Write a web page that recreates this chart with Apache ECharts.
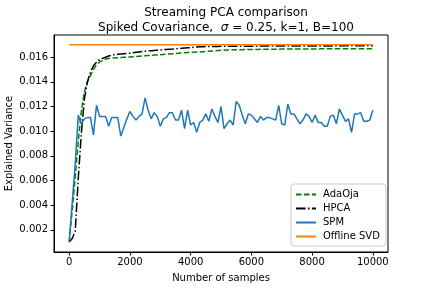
<!DOCTYPE html>
<html>
<head>
<meta charset="utf-8">
<script src="https://cdn.jsdelivr.net/npm/echarts@6/dist/echarts.min.js"></script>
<style>
html,body{margin:0;padding:0;background:#fff;}
#c{width:432px;height:288px;}
</style>
</head>
<body>
<div id="c"></div>
<script>
const samples = [0,100,200,300,400,500,600,700,800,900,
1000,1100,1200,1300,1400,1500,1600,1700,1800,1900,
2000,2100,2200,2300,2400,2500,2600,2700,2800,2900,
3000,3100,3200,3300,3400,3500,3600,3700,3800,3900,
4000,4100,4200,4300,4400,4500,4600,4700,4800,4900,
5000,5100,5200,5300,5400,5500,5600,5700,5800,5900,
6000,6100,6200,6300,6400,6500,6600,6700,6800,6900,
7000,7100,7200,7300,7400,7500,7600,7700,7800,7900,
8000,8100,8200,8300,8400,8500,8600,8700,8800,8900,
9000,9100,9200,9300,9400,9500,9600,9700,9800,9900,10000];

const adaOja = [0.0010,0.0036,0.0063,0.0092,0.0116,0.0132,0.0140,0.0145,0.0150,0.0154,
0.0156,0.01575,0.01585,0.0159,0.01592,0.01594,0.01596,0.01598,0.0160,0.0160,
0.01602,0.01604,0.01606,0.01608,0.0161,0.01612,0.01614,0.01616,0.01617,0.01618,
0.0162,0.01622,0.01624,0.01626,0.01628,0.0163,0.01632,0.01634,0.01636,0.01638,
0.0164,0.01641,0.01642,0.01643,0.01645,0.01646,0.01648,0.0165,0.01652,0.01654,
0.01656,0.01657,0.01658,0.01659,0.0166,0.0166,0.01661,0.01661,0.01662,0.01662,
0.01663,0.01663,0.01663,0.01664,0.01664,0.01664,0.01665,0.01665,0.01665,0.01665,
0.01666,0.01666,0.01666,0.01666,0.01666,0.01667,0.01667,0.01667,0.01667,0.01667,
0.01667,0.01667,0.01667,0.01668,0.01668,0.01668,0.01668,0.01668,0.01668,0.01668,
0.01668,0.01668,0.01668,0.01668,0.01668,0.01668,0.01668,0.01668,0.01668,0.01668,0.01668];

const hpca = [0.0010,0.0013,0.0019,0.0062,0.0098,0.0126,0.0140,0.0148,0.0153,0.0156,
0.0158,0.0159,0.0160,0.0161,0.01615,0.0162,0.01623,0.01626,0.01628,0.0163,
0.01632,0.01636,0.0164,0.01643,0.01646,0.01649,0.01651,0.01653,0.01655,0.01657,
0.01659,0.01661,0.01663,0.01665,0.01666,0.01668,0.0167,0.01672,0.01674,0.01676,
0.01678,0.0168,0.01682,0.01684,0.01685,0.01686,0.01686,0.01687,0.01687,0.01687,
0.01688,0.01688,0.01688,0.01688,0.01688,0.01688,0.01689,0.01689,0.01689,0.01689,
0.01689,0.01689,0.01689,0.0169,0.0169,0.0169,0.0169,0.0169,0.0169,0.0169,
0.0169,0.0169,0.0169,0.0169,0.0169,0.0169,0.01691,0.01691,0.01691,0.01691,
0.01691,0.01691,0.01691,0.01691,0.01691,0.01691,0.01691,0.01691,0.01691,0.01691,
0.01692,0.01692,0.01692,0.01692,0.01692,0.01692,0.01692,0.01692,0.01692,0.01692,0.01692];

const spm = [0.0010,0.0042,0.0074,0.0113,0.0106,0.0110,0.0111,0.0111,0.0097,0.0121,
0.0112,0.0112,0.0112,0.0104,0.0111,0.0111,0.0111,0.0096,0.0103,0.0110,
0.0116,0.0112,0.0109,0.0112,0.0114,0.0127,0.0117,0.0110,0.0115,0.0112,
0.0104,0.0110,0.0111,0.0115,0.0115,0.0109,0.0109,0.0117,0.0102,0.0117,
0.0105,0.0107,0.0099,0.0107,0.0109,0.0114,0.0108,0.0118,0.0112,0.0107,
0.0120,0.0102,0.0106,0.0109,0.0105,0.0124,0.0121,0.0113,0.0106,0.0114,
0.0113,0.0110,0.0107,0.0112,0.0109,0.0111,0.0111,0.0110,0.0109,0.0121,
0.0106,0.0105,0.0122,0.0114,0.0114,0.0110,0.0106,0.0109,0.0114,0.0112,
0.0107,0.0113,0.0107,0.0107,0.0104,0.0104,0.0112,0.0113,0.0106,0.0118,
0.0113,0.0108,0.0110,0.0099,0.0114,0.0114,0.0115,0.0108,0.0108,0.0109,0.0117];

const offlineSVD = 0.0170;
const svdSamples = [0, 10000];

const xTicks = [0,2000,4000,6000,8000,10000];
const yTicks = [0.002,0.004,0.006,0.008,0.010,0.012,0.014,0.016];

const seriesNames = ['AdaOja','HPCA','SPM','Offline SVD'];

function pairs(xs, ys){ return xs.map((x,i)=>[x, ys[i]]); }

const FONT = 'DejaVu Sans';
const chart = echarts.init(document.getElementById('c'), null, {renderer:'canvas'});
chart.setOption({
  animation:false,
  backgroundColor:'#fff',
  textStyle:{fontFamily:FONT},
  title:{
    left:221, top:0, textAlign:'center',
    text:'{a|Streaming PCA comparison}\n{a|Spiked Covariance,  }{i|σ}{a| = 0.25, k=1, B=100}',
    textStyle:{
      fontFamily:FONT, fontSize:12, fontWeight:'normal', color:'#000', lineHeight:15,
      rich:{
        a:{fontFamily:FONT, fontSize:12, color:'#000', lineHeight:15},
        i:{fontFamily:FONT, fontSize:12, fontStyle:'italic', color:'#000', lineHeight:15}
      }
    }
  },
  grid:{left:54, right:44, top:35, bottom:36, containLabel:false, outerBoundsMode:'none',
        show:true, borderColor:'#000', borderWidth:1, backgroundColor:'transparent'},
  legend:{
    data:seriesNames,
    orient:'vertical',
    left:291, top:184,
    itemWidth:20, itemHeight:10, itemGap:3,
    padding:[5,6,4,4],
    borderColor:'#cccccc', borderWidth:1, borderRadius:3,
    backgroundColor:'rgba(255,255,255,0.8)',
    itemStyle:{opacity:0},
    textStyle:{fontFamily:FONT, fontSize:10, color:'#000', lineHeight:11, padding:[0,0,0,2]}
  },
  xAxis:{
    type:'value', min:-500, max:10500,
    name:'Number of samples', nameLocation:'middle', nameGap:21,
    nameTextStyle:{fontFamily:FONT, fontSize:10, color:'#000'},
    axisLine:{show:true, onZero:false, lineStyle:{color:'#000', width:1}},
    axisTick:{show:true, inside:false, length:3.5, lineStyle:{color:'#000'}, customValues:xTicks},
    axisLabel:{fontFamily:FONT, fontSize:10, color:'#000', margin:5, customValues:xTicks, formatter:v=>String(v)},
    splitLine:{show:false}
  },
  yAxis:{
    type:'value', min:0.0002, max:0.0178,
    name:'Explained Variance', nameLocation:'middle', nameGap:40, nameMoveOverlap:false,
    nameTextStyle:{fontFamily:FONT, fontSize:10, color:'#000'},
    axisLine:{show:true, onZero:false, lineStyle:{color:'#000', width:1}},
    axisTick:{show:true, inside:false, length:3.5, lineStyle:{color:'#000'}, customValues:yTicks},
    axisLabel:{fontFamily:FONT, fontSize:10, color:'#000', margin:6, customValues:yTicks, formatter:v=>v.toFixed(3)},
    splitLine:{show:false}
  },
  series:[
    {name:'AdaOja', type:'line', data:pairs(samples, adaOja), symbol:'none', z:2,
     lineStyle:{color:'#008000', width:1.5, type:[5.55,2.4]}, itemStyle:{color:'#008000'}},
    {name:'HPCA', type:'line', data:pairs(samples, hpca), symbol:'none', z:3,
     lineStyle:{color:'#000000', width:1.5, type:[9.6,2.4,1.5,2.4]}, itemStyle:{color:'#000000'}},
    {name:'SPM', type:'line', data:pairs(samples, spm), symbol:'none', z:4,
     lineStyle:{color:'#1f77b4', width:1.5}, itemStyle:{color:'#1f77b4'}},
    {name:'Offline SVD', type:'line', data:svdSamples.map(x=>[x, offlineSVD]), symbol:'none', z:5,
     lineStyle:{color:'#ff7f0e', width:1.5}, itemStyle:{color:'#ff7f0e'}}
  ]
});
</script>
</body>
</html>
